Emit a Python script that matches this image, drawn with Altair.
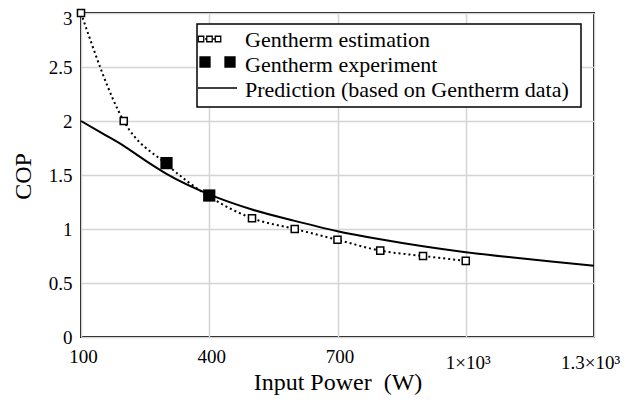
import altair as alt
import pandas as pd

# ---- data ----
est_power = [100, 200, 300, 400, 500, 600, 700, 800, 900, 1000]
est_cop = [3.0, 2.0, 1.6, 1.3, 1.1, 1.0, 0.9, 0.8, 0.75, 0.705]

exp_power = [300, 400]
exp_cop = [1.61, 1.31]

pred_power = [100, 150, 200, 250, 300, 400, 500, 600, 700, 800, 900, 1000, 1100, 1200, 1300]
pred_cop = [2.0, 1.885, 1.77, 1.635, 1.51, 1.32, 1.18, 1.075, 0.98, 0.905, 0.84, 0.785, 0.74, 0.70, 0.66]

x_ticks = [100, 400, 700, 1000, 1300]
y_ticks = [0, 0.5, 1, 1.5, 2, 2.5, 3]

legend_labels = ["Gentherm estimation", "Gentherm experiment", "Prediction (based on Gentherm data)"]

FONT = "Liberation Serif"
W, H = 513, 324

est_df = pd.DataFrame({"power": est_power, "cop": est_cop})
exp_df = pd.DataFrame({"power": exp_power, "cop": exp_cop})
pred_df = pd.DataFrame({"power": pred_power, "cop": pred_cop})

x_scale = alt.Scale(domain=[100, 1300], nice=False, zero=False)
y_scale = alt.Scale(domain=[0, 3], nice=False)

x_axis = alt.Axis(
    title="Input Power\u00a0\u00a0(W)",
    values=x_ticks,
    labelExpr="datum.value == 1000 ? '1×10³' : datum.value == 1300 ? '1.3×10³' : format(datum.value, 'd')",
    labelFont=FONT, labelFontSize=19, labelColor="black", labelFlush=False,
    labelPadding={"condition": {"test": "datum.value >= 1000", "value": 16}, "value": 10},
    labelOffset={"condition": {"test": "datum.value == 1300", "value": -4}, "value": 2},
    labelBaseline="top",
    titleFont=FONT, titleFontSize=24, titleFontWeight="normal", titleColor="black",
    titleY=52, titleBaseline="alphabetic",
    domain=False, ticks=False, grid=True,
    gridColor="#d4d4d4", gridWidth=1.5,
)
y_axis = alt.Axis(
    title="COP",
    values=y_ticks,
    labelExpr="format(datum.value, '~g')",
    labelFont=FONT, labelFontSize=19, labelColor="black", labelPadding=9, labelFlush=False,
    labelOffset={"condition": {"test": "datum.value == 3", "value": 5}, "value": 0},
    titleFont=FONT, titleFontSize=24, titleFontWeight="normal", titleColor="black",
    titleX=-51, titleY=163, titleBaseline="alphabetic", titleAlign="center",
    domain=False, ticks=False, grid=True,
    gridColor="#d4d4d4", gridWidth=1.5,
)

x_enc = alt.X("power:Q", scale=x_scale, axis=x_axis)
y_enc = alt.Y("cop:Q", scale=y_scale, axis=y_axis)

pred_line = alt.Chart(pred_df).mark_line(
    color="black", strokeWidth=2, interpolate="monotone"
).encode(x=x_enc, y=y_enc)

est_line = alt.Chart(est_df).mark_line(
    color="black", strokeWidth=2, strokeDash=[2, 3], interpolate="monotone"
).encode(x="power:Q", y="cop:Q")

est_pts = alt.Chart(est_df).mark_square(
    fill="white", stroke="black", strokeWidth=1.5, size=50, opacity=1
).encode(x="power:Q", y="cop:Q")

exp_pts = alt.Chart(exp_df).mark_square(
    color="black", size=150, opacity=1
).encode(x="power:Q", y="cop:Q")

# ---- legend (drawn in pixel space) ----
one = alt.Data(values=[{"a": 1}])

legend_box = alt.Chart(one).mark_rect(
    fill="white", stroke="black", strokeWidth=1.5
).encode(x=alt.value(116), x2=alt.value(500), y=alt.value(11), y2=alt.value(94))

leg_est_line = alt.Chart(one).mark_rule(
    color="black", strokeWidth=1.5, strokeDash=[2, 2]
).encode(x=alt.value(120), x2=alt.value(137), y=alt.value(26))

def sq(xp, yp, size, fill):
    return alt.Chart(one).mark_square(
        fill=fill, stroke="black", strokeWidth=1.3, size=size, opacity=1
    ).encode(x=alt.value(xp), y=alt.value(yp))

leg_est_sq = [sq(120, 26, 30, "white"), sq(128.5, 26, 30, "white"), sq(137, 26, 30, "white")]
leg_exp_sq = [sq(124, 49, 100, "black"), sq(149, 49, 100, "black")]

leg_pred = alt.Chart(one).mark_rule(color="black", strokeWidth=1.5).encode(
    x=alt.value(117), x2=alt.value(156), y=alt.value(75)
)

def txt(label, yp):
    return alt.Chart(one).mark_text(
        text=label, font=FONT, fontSize=22, color="black",
        align="left", baseline="alphabetic"
    ).encode(x=alt.value(164), y=alt.value(yp))

leg_txt = [txt(legend_labels[0], 34), txt(legend_labels[1], 59), txt(legend_labels[2], 84)]

chart = alt.layer(
    pred_line, est_line, est_pts, exp_pts,
    legend_box, leg_est_line, *leg_est_sq, *leg_exp_sq, leg_pred, *leg_txt
).properties(
    width=W, height=H,
    autosize=alt.AutoSizeParams(type="none"),
    padding={"left": 73, "top": 5, "right": 28, "bottom": 60},
    background="white",
).configure_view(
    stroke="black", strokeWidth=2
)

chart.save("out.html", embed_options={"renderer": "svg", "actions": False})
